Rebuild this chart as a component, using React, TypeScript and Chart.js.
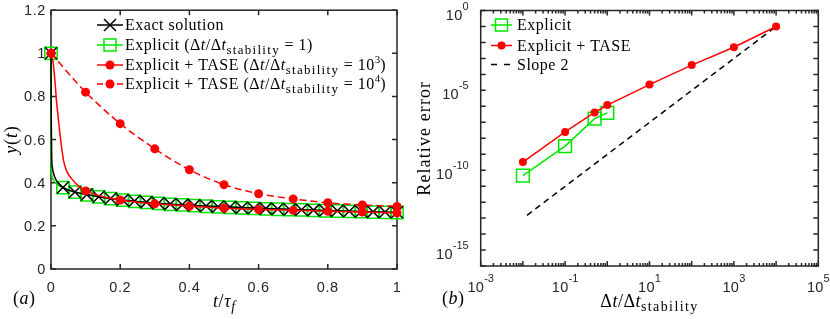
import React, { useEffect, useRef } from "react";
import { Chart, registerables } from "chart.js";

Chart.register(...registerables);

// ---------------- Panel (a) data ----------------
const markerT = [0, 0.0345, 0.069, 0.1034, 0.1379, 0.1724, 0.2069, 0.2414, 0.2759, 0.3103, 0.3448, 0.3793, 0.4138, 0.4483, 0.4828, 0.5172, 0.5517, 0.5862, 0.6207, 0.6552, 0.6897, 0.7241, 0.7586, 0.7931, 0.8276, 0.8621, 0.8966, 0.931, 0.9655, 1];
const exactMarkerY = [1, 0.378, 0.357, 0.345, 0.335, 0.327, 0.32, 0.315, 0.31, 0.305, 0.301, 0.298, 0.295, 0.292, 0.289, 0.287, 0.284, 0.282, 0.28, 0.278, 0.276, 0.275, 0.273, 0.271, 0.27, 0.268, 0.267, 0.265, 0.264, 0.263];
const explicitMarkerY = [1, 0.377, 0.356, 0.344, 0.334, 0.326, 0.319, 0.314, 0.309, 0.304, 0.3, 0.297, 0.294, 0.291, 0.288, 0.286, 0.283, 0.281, 0.279, 0.277, 0.275, 0.274, 0.272, 0.27, 0.269, 0.267, 0.266, 0.264, 0.263, 0.262];

const exactLineT = [0, 0.0005, 0.001, 0.002, 0.004, 0.007, 0.012, 0.02, 0.0345, 0.05, 0.069, 0.1034, 0.15, 0.2069, 0.3103, 0.4138, 0.5172, 0.6207, 0.7241, 0.8276, 0.931, 1];
const exactLineY = [1, 0.8, 0.65, 0.52, 0.47, 0.445, 0.422, 0.4, 0.378, 0.366, 0.357, 0.345, 0.332, 0.32, 0.305, 0.295, 0.287, 0.28, 0.275, 0.27, 0.265, 0.263];

const explicitLineT = [0, 0.0003, 0.001, 0.003, 0.008, 0.018, 0.0345, 0.069, 0.1034, 0.2069, 0.3103, 0.4138, 0.5172, 0.6207, 0.7241, 0.8276, 0.931, 1];
const explicitLineY = [1, 0.62, 0.47, 0.43, 0.41, 0.392, 0.377, 0.356, 0.344, 0.319, 0.304, 0.294, 0.286, 0.279, 0.274, 0.269, 0.264, 0.262];

const taseT = [0, 0.1, 0.2, 0.3, 0.4, 0.5, 0.6, 0.7, 0.8, 0.9, 1];
const tase3MarkerY = [1, 0.362, 0.32, 0.302, 0.291, 0.282, 0.276, 0.272, 0.268, 0.264, 0.26];
const tase4MarkerY = [1, 0.82, 0.674, 0.557, 0.46, 0.391, 0.349, 0.325, 0.307, 0.297, 0.29];

const tase3LineT = [0, 0.003, 0.007, 0.012, 0.016, 0.021, 0.026, 0.031, 0.036, 0.045, 0.06, 0.08, 0.1, 0.13, 0.16, 0.2, 0.25, 0.3, 0.4, 0.5, 0.6, 0.7, 0.8, 0.9, 1];
const tase3LineY = [1, 0.985, 0.946, 0.86, 0.777, 0.7, 0.624, 0.56, 0.505, 0.455, 0.418, 0.384, 0.362, 0.345, 0.332, 0.32, 0.31, 0.302, 0.291, 0.282, 0.276, 0.272, 0.268, 0.264, 0.26];

const aXTicks = [0, 0.2, 0.4, 0.6, 0.8, 1];
const aXTickLabels = ["0", "0.2", "0.4", "0.6", "0.8", "1"];
const aYTicks = [0, 0.2, 0.4, 0.6, 0.8, 1, 1.2];
const aYTickLabels = ["0", "0.2", "0.4", "0.6", "0.8", "1", "1.2"];

// ---------------- Panel (b) data ----------------
const ratioExplicit = [0.01, 0.1, 0.5, 1];
const errExplicit = [4.5e-11, 3.2e-9, 1.7e-7, 3.9e-7];
const ratioTase = [0.01, 0.1, 0.5, 1, 10, 100, 1000, 10000];
const errTase = [3.2e-10, 2.5e-8, 4.1e-7, 1.2e-6, 2.3e-5, 3.8e-4, 5e-3, 0.1];
const slopeX = [0.0125, 10000];
const slopeY = [1.5e-13, 0.1];

const bXDecades = [-3, -2, -1, 0, 1, 2, 3, 4, 5];
const bXLabelExps = [-3, -1, 1, 3, 5];
const bYDecades = [-16, -15, -14, -13, -12, -11, -10, -9, -8, -7, -6, -5, -4, -3, -2, -1, 0];
const bYLabelExps = [0, -5, -10, -15];

// ---------------- styling ----------------
const SERIF = '"Liberation Serif", "Times New Roman", serif';
const SANS = '"Liberation Sans", Arial, Helvetica, sans-serif';
const INK = "#262626";
const GREEN = "#00e600";
const RED = "#ff0000";
const B_OFFSET = 415; // left edge of panel (b) canvas in page coordinates

type Seg = { t: string; size: number; italic?: boolean; dy?: number; ls?: number; family?: string };

function segFont(s: Seg) {
  return `${s.italic ? "italic " : ""}${s.size}px ${s.family || SERIF}`;
}
function setLS(ctx: any, v: number) {
  ctx.letterSpacing = `${v}px`;
}
function richWidth(ctx: CanvasRenderingContext2D, segs: Seg[]) {
  let w = 0;
  for (const s of segs) {
    ctx.font = segFont(s);
    setLS(ctx, s.ls || 0);
    w += ctx.measureText(s.t).width;
  }
  setLS(ctx, 0);
  return w;
}
function drawRich(ctx: CanvasRenderingContext2D, segs: Seg[], x: number, y: number, align: "left" | "center" | "right") {
  const w = richWidth(ctx, segs);
  let cx = align === "left" ? x : align === "center" ? x - w / 2 : x - w;
  ctx.textAlign = "left";
  ctx.textBaseline = "alphabetic";
  for (const s of segs) {
    ctx.font = segFont(s);
    setLS(ctx, s.ls || 0);
    ctx.fillText(s.t, cx, y + (s.dy || 0));
    cx += ctx.measureText(s.t).width;
  }
  setLS(ctx, 0);
}

const LG = 16;
const LGLS = 0.5;
const rm = (t: string, size = LG, ls = LGLS): Seg => ({ t, size, ls });
const it = (t: string, size = LG, ls = LGLS): Seg => ({ t, size, italic: true, ls });
const subS = (t: string, size = 13, dy = 4, ls = 1.3): Seg => ({ t, size, dy, ls });
const supS = (t: string, size = 11, dy = -7): Seg => ({ t, size, dy });

const ratioSegs = (rhs: Seg[]): Seg[] => [rm("("), rm("Δ"), it("t"), rm("/Δ"), it("t"), subS("stability"), rm(" = "), ...rhs, rm(")")];

const legendA: { segs: Seg[]; kind: string }[] = [
  { segs: [rm("Exact solution")], kind: "exact" },
  { segs: [rm("Explicit "), ...ratioSegs([rm("1")])], kind: "explicit" },
  { segs: [rm("Explicit + TASE "), ...ratioSegs([rm("10"), supS("3")])], kind: "tase3" },
  { segs: [rm("Explicit + TASE "), ...ratioSegs([rm("10"), supS("4")])], kind: "tase4" },
];
const legendB: { segs: Seg[]; kind: string }[] = [
  { segs: [rm("Explicit")], kind: "explicitB" },
  { segs: [rm("Explicit + TASE")], kind: "taseB" },
  { segs: [rm("Slope 2")], kind: "slope" },
];

function drawX(ctx: CanvasRenderingContext2D, x: number, y: number, h: number) {
  ctx.beginPath();
  ctx.moveTo(x - h, y - h);
  ctx.lineTo(x + h, y + h);
  ctx.moveTo(x - h, y + h);
  ctx.lineTo(x + h, y - h);
  ctx.stroke();
}

function drawLegendSample(ctx: CanvasRenderingContext2D, kind: string, x0: number, x1: number, y: number) {
  const xm = (x0 + x1) / 2;
  ctx.save();
  ctx.lineWidth = 1.5;
  if (kind === "exact") {
    ctx.strokeStyle = "#000";
    ctx.beginPath(); ctx.moveTo(x0, y); ctx.lineTo(x1, y); ctx.stroke();
    drawX(ctx, xm, y, 6);
  } else if (kind === "explicit" || kind === "explicitB") {
    ctx.strokeStyle = GREEN;
    ctx.beginPath(); ctx.moveTo(x0, y); ctx.lineTo(x1, y); ctx.stroke();
    ctx.strokeRect(xm - 6, y - 6, 12, 12);
  } else if (kind === "tase3" || kind === "taseB") {
    ctx.strokeStyle = RED;
    ctx.beginPath(); ctx.moveTo(x0, y); ctx.lineTo(x1, y); ctx.stroke();
    ctx.fillStyle = RED;
    ctx.beginPath(); ctx.arc(xm, y, kind === "taseB" ? 4 : 4.5, 0, Math.PI * 2); ctx.fill();
  } else if (kind === "tase4") {
    ctx.strokeStyle = RED;
    ctx.setLineDash([6, 4]);
    ctx.beginPath(); ctx.moveTo(x0, y); ctx.lineTo(x1, y); ctx.stroke();
    ctx.setLineDash([]);
    ctx.fillStyle = RED;
    ctx.beginPath(); ctx.arc(xm, y, 4.5, 0, Math.PI * 2); ctx.fill();
  } else if (kind === "slope") {
    ctx.strokeStyle = "#000";
    ctx.setLineDash([6, 7]);
    ctx.beginPath(); ctx.moveTo(x0, y); ctx.lineTo(x1, y); ctx.stroke();
  }
  ctx.restore();
}

const pts = (xs: number[], ys: number[]) => xs.map((x, i) => ({ x, y: ys[i] }));

// ---------------- plugins ----------------
const panelAPlugin = {
  id: "panelA",
  beforeDatasetsDraw(chart: any) {
    const { ctx, chartArea, scales } = chart;
    const { left, right, top, bottom } = chartArea;
    const x = scales.x, y = scales.y;
    ctx.save();
    ctx.strokeStyle = INK;
    ctx.lineWidth = 1.5;
    ctx.strokeRect(left, top, right - left, bottom - top);
    ctx.beginPath();
    aXTicks.forEach((v) => {
      const px = x.getPixelForValue(v);
      ctx.moveTo(px, bottom); ctx.lineTo(px, bottom - 5);
      ctx.moveTo(px, top); ctx.lineTo(px, top + 5);
    });
    aYTicks.forEach((v) => {
      const py = y.getPixelForValue(v);
      ctx.moveTo(left, py); ctx.lineTo(left + 5, py);
      ctx.moveTo(right, py); ctx.lineTo(right - 5, py);
    });
    ctx.stroke();
    ctx.fillStyle = INK;
    ctx.font = `14.5px ${SANS}`;
    setLS(ctx, 0.6);
    ctx.textBaseline = "alphabetic";
    ctx.textAlign = "center";
    aXTicks.forEach((v, i) => ctx.fillText(aXTickLabels[i], x.getPixelForValue(v), 292));
    ctx.textAlign = "right";
    aYTicks.forEach((v, i) => ctx.fillText(aYTickLabels[i], 46, y.getPixelForValue(v) + 5));
    setLS(ctx, 0);
    ctx.restore();
  },
  afterDatasetsDraw(chart: any) {
    const { ctx, chartArea } = chart;
    ctx.save();
    ctx.fillStyle = "#000";
    // axis titles
    drawRich(ctx, [it("t", 18, 0.6), rm("/", 18, 0.6), it("τ", 18, 0.6), { t: "f", size: 14, italic: true, dy: 4 }], (chartArea.left + chartArea.right) / 2, 307, "center");
    ctx.save();
    ctx.translate(17, (chartArea.top + chartArea.bottom) / 2);
    ctx.rotate(-Math.PI / 2);
    drawRich(ctx, [it("y", 18, 0.8), rm("(", 18, 0.8), it("t", 18, 0.8), rm(")", 18, 0.8)], 0, 0, "center");
    ctx.restore();
    drawRich(ctx, [rm("(", 18, 0.5), it("a", 18, 0.5), rm(")", 18, 0.5)], 13, 304, "left");
    // legend
    const rows = [25, 45, 65, 84];
    legendA.forEach((e, i) => {
      drawLegendSample(ctx, e.kind, 97, 123, rows[i]);
      ctx.fillStyle = "#000";
      drawRich(ctx, e.segs, 125, rows[i] + 5, "left");
    });
    ctx.restore();
  },
};

const panelBPlugin = {
  id: "panelB",
  beforeDatasetsDraw(chart: any) {
    const { ctx, chartArea, scales } = chart;
    const { left, right, top, bottom } = chartArea;
    const x = scales.x, y = scales.y;
    ctx.save();
    ctx.strokeStyle = INK;
    ctx.lineWidth = 1.5;
    ctx.strokeRect(left, top, right - left, bottom - top);
    ctx.beginPath();
    bXDecades.forEach((e, di) => {
      const px = x.getPixelForValue(Math.pow(10, e));
      ctx.moveTo(px, bottom); ctx.lineTo(px, bottom - 5);
      ctx.moveTo(px, top); ctx.lineTo(px, top + 5);
      if (di < bXDecades.length - 1) {
        for (let m = 2; m <= 9; m++) {
          const pm = x.getPixelForValue(m * Math.pow(10, e));
          ctx.moveTo(pm, bottom); ctx.lineTo(pm, bottom - 3);
          ctx.moveTo(pm, top); ctx.lineTo(pm, top + 3);
        }
      }
    });
    bYDecades.forEach((e) => {
      const py = y.getPixelForValue(Math.pow(10, e));
      ctx.moveTo(left, py); ctx.lineTo(left + 5, py);
      ctx.moveTo(right, py); ctx.lineTo(right - 5, py);
    });
    ctx.stroke();
    ctx.fillStyle = INK;
    bXLabelExps.forEach((e) => {
      const px = x.getPixelForValue(Math.pow(10, e));
      drawRich(ctx, [{ t: "10", size: 14.5, family: SANS, ls: 0.3 }, { t: String(e), size: 11, family: SANS, dy: -10 }], px, 291.5, "center");
    });
    bYLabelExps.forEach((e) => {
      const py = y.getPixelForValue(Math.pow(10, e));
      drawRich(ctx, [{ t: "10", size: 14.5, family: SANS, ls: 0.3 }, { t: String(e), size: 11, family: SANS, dy: -10 }], left - 12, py + 9, "right");
    });
    ctx.restore();
  },
  afterDatasetsDraw(chart: any) {
    const { ctx, chartArea } = chart;
    ctx.save();
    ctx.fillStyle = "#000";
    drawRich(ctx, [rm("Δ", 18, 0.5), it("t", 18, 0.5), rm("/Δ", 18, 0.5), it("t", 18, 0.5), { t: "stability", size: 14, dy: 4, ls: 1.4 }], (chartArea.left + chartArea.right) / 2, 307, "center");
    ctx.save();
    ctx.translate(430 - B_OFFSET, (chartArea.top + chartArea.bottom) / 2);
    ctx.rotate(-Math.PI / 2);
    drawRich(ctx, [rm("Relative error", 18, 1.1)], 0, 0, "center");
    ctx.restore();
    drawRich(ctx, [rm("(", 18, 0.5), it("b", 18, 0.5), rm(")", 18, 0.5)], 442 - B_OFFSET, 304, "left");
    const rows = [25, 45.5, 64.5];
    legendB.forEach((e, i) => {
      drawLegendSample(ctx, e.kind, 491 - B_OFFSET, 512 - B_OFFSET, rows[i]);
      ctx.fillStyle = "#000";
      drawRich(ctx, e.segs, 517 - B_OFFSET, rows[i] + 5, "left");
    });
    ctx.restore();
  },
};

function makeChartA(canvas: HTMLCanvasElement) {
  return new Chart(canvas, {
    type: "scatter",
    data: {
      datasets: [
        { data: pts(tase3LineT, tase3LineY) as any, showLine: true, borderColor: RED, borderWidth: 1.5, pointRadius: 0, cubicInterpolationMode: "monotone", order: 6, clip: false } as any,
        { data: pts(taseT, tase3MarkerY) as any, showLine: false, pointStyle: "circle", pointRadius: 4.5, pointBackgroundColor: RED, pointBorderColor: RED, pointBorderWidth: 0, order: 5, clip: false } as any,
        { data: pts(taseT, tase4MarkerY) as any, showLine: true, borderColor: RED, borderWidth: 1.5, borderDash: [7, 4], tension: 0.3, pointStyle: "circle", pointRadius: 4.5, pointBackgroundColor: RED, pointBorderColor: RED, pointBorderWidth: 0, order: 4, clip: false } as any,
        { data: pts(exactLineT, exactLineY) as any, showLine: true, borderColor: "#000", borderWidth: 1.5, pointRadius: 0, cubicInterpolationMode: "monotone", order: 8, clip: false } as any,
        { data: pts(markerT, exactMarkerY) as any, showLine: false, pointStyle: "crossRot", pointRadius: 8.5, pointBorderColor: "#000", pointBorderWidth: 1.5, order: 7, clip: false } as any,
        { data: pts(explicitLineT, explicitLineY) as any, showLine: true, borderColor: GREEN, borderWidth: 1.5, pointRadius: 0, cubicInterpolationMode: "monotone", order: 10, clip: false } as any,
        { data: pts(markerT, explicitMarkerY) as any, showLine: false, pointStyle: "rect", pointRadius: 8.7, pointBorderColor: GREEN, pointBackgroundColor: "rgba(0,0,0,0)", pointBorderWidth: 1.5, order: 9, clip: false } as any,
      ],
    },
    options: {
      animation: false,
      responsive: false,
      maintainAspectRatio: false,
      events: [],
      layout: { padding: { left: 51, right: 18, top: 8, bottom: 50 } },
      plugins: { legend: { display: false }, tooltip: { enabled: false } },
      scales: {
        x: { type: "linear", min: 0, max: 1, display: false },
        y: { type: "linear", min: 0, max: 1.2, display: false },
      },
    } as any,
    plugins: [panelAPlugin as any],
  });
}

function makeChartB(canvas: HTMLCanvasElement) {
  return new Chart(canvas, {
    type: "scatter",
    data: {
      datasets: [
        { data: pts(ratioTase, errTase) as any, showLine: true, borderColor: RED, borderWidth: 1.5, pointStyle: "circle", pointRadius: 4, pointBackgroundColor: RED, pointBorderColor: RED, pointBorderWidth: 0, order: 1, clip: false } as any,
        { data: pts(ratioExplicit, errExplicit) as any, showLine: true, borderColor: GREEN, borderWidth: 1.5, pointStyle: "rect", pointRadius: 9, pointBackgroundColor: "rgba(0,0,0,0)", pointBorderColor: GREEN, pointBorderWidth: 1.5, order: 2, clip: false } as any,
        { data: pts(slopeX, slopeY) as any, showLine: true, borderColor: "#000", borderWidth: 1.5, borderDash: [6, 4.5], pointRadius: 0, order: 3, clip: false } as any,
      ],
    },
    options: {
      animation: false,
      responsive: false,
      maintainAspectRatio: false,
      events: [],
      layout: { padding: { left: 65.7, right: 11.7, top: 8, bottom: 53 } },
      plugins: { legend: { display: false }, tooltip: { enabled: false } },
      scales: {
        x: { type: "logarithmic", min: 1e-3, max: 1e5, display: false },
        y: { type: "logarithmic", min: 1e-16, max: 1, display: false },
      },
    } as any,
    plugins: [panelBPlugin as any],
  });
}

export default function App() {
  const refA = useRef<HTMLCanvasElement>(null);
  const refB = useRef<HTMLCanvasElement>(null);
  useEffect(() => {
    const a = makeChartA(refA.current!);
    const b = makeChartB(refB.current!);
    return () => {
      a.destroy();
      b.destroy();
    };
  }, []);
  return (
    <div style={{ position: "fixed", left: 0, top: 0, width: 830, height: 319, background: "#fff", overflow: "hidden" }}>
      <canvas ref={refA} width={415} height={319} style={{ position: "absolute", left: 0, top: 0, width: 415, height: 319, display: "block" }} />
      <canvas ref={refB} width={415} height={319} style={{ position: "absolute", left: B_OFFSET, top: 0, width: 415, height: 319, display: "block" }} />
    </div>
  );
}
